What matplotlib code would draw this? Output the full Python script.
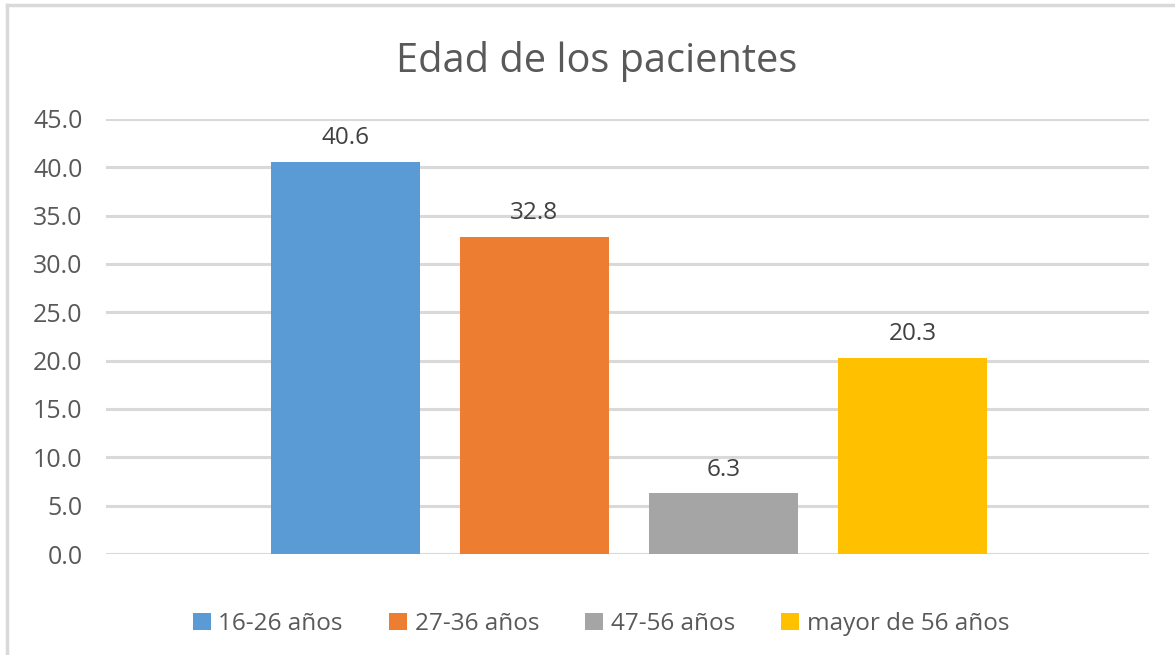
import matplotlib
matplotlib.use("Agg")
import matplotlib.pyplot as plt
from matplotlib.lines import Line2D
from matplotlib.patches import Patch

plt.rcParams['font.family'] = ['Open Sans', 'DejaVu Sans']

categories = ["16-26 años", "27-36 años", "47-56 años", "mayor de 56 años"]
values = [40.6, 32.8, 6.3, 20.3]
colors = ["#5B9BD5", "#ED7D31", "#A5A5A5", "#FFC000"]
yticks = [0, 5, 10, 15, 20, 25, 30, 35, 40, 45]
title = "Edad de los pacientes"

W, H = 1175, 655
fig = plt.figure(figsize=(W / 100, H / 100), dpi=100)
fig.patch.set_facecolor("white")

left, right, bottom, top = 106, 1149, 554, 119
ax = fig.add_axes([left / W, (H - bottom) / H, (right - left) / W, (bottom - top) / H])

text_color = "#595959"
grid_color = "#D9D9D9"

xs = list(range(len(values)))
bars = ax.bar(xs, values, width=0.79, color=colors, zorder=3)
for x, v in zip(xs, values):
    ax.text(x, v + 1.2, f"{v:.1f}", ha="center", va="bottom", fontsize=17.5,
            color="#404040", zorder=4)

ax.set_xlim(-1.265, 4.251)
ax.set_ylim(0, 45)
ax.set_yticks(yticks)
ax.set_yticklabels([f"{t:.1f}" for t in yticks], fontsize=18, color=text_color)
ax.set_xticks([])
ax.tick_params(axis="y", length=0, pad=17)
for s in ax.spines.values():
    s.set_visible(False)
for t in yticks:
    ax.axhline(t, color=grid_color, lw=2.2, zorder=1)

fig.text(597 / W, 1 - 62 / H, title, ha="center", va="center", fontsize=28.6,
         color=text_color)

handles = [Patch(facecolor=c, edgecolor="none") for c in colors]
leg = fig.legend(handles, categories, loc="center", bbox_to_anchor=(601 / W, 1 - 624 / H),
                 ncol=4, frameon=False, fontsize=17.5, handlelength=0.75, handleheight=0.75,
                 handletextpad=0.3, columnspacing=1.9, labelcolor=text_color)

# chart border (top and left visible)
fig.add_artist(Line2D([7 / W, 7 / W], [0, 1 - 5 / H], color=grid_color, lw=2.5,
                      transform=fig.transFigure))
fig.add_artist(Line2D([7 / W, 1], [1 - 5 / H, 1 - 5 / H], color=grid_color, lw=2.5,
                      transform=fig.transFigure))

fig.savefig("out.png", dpi=100)
